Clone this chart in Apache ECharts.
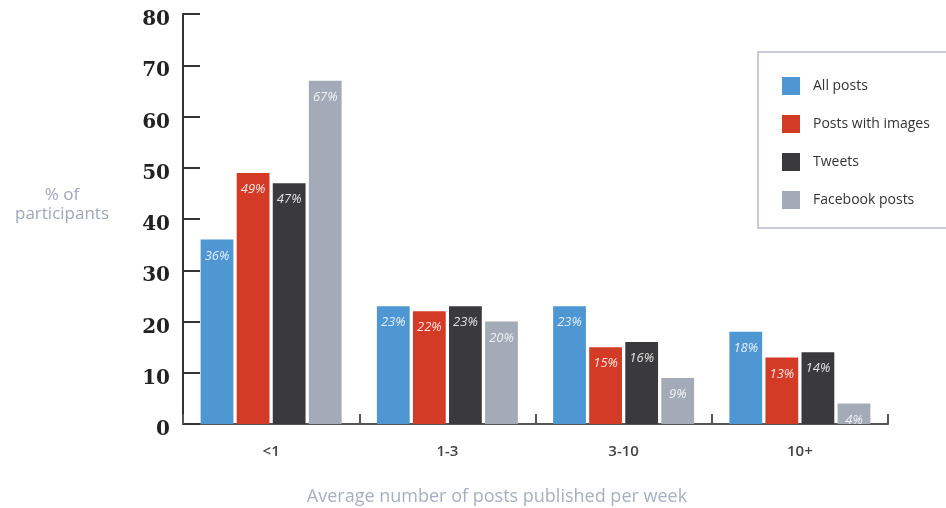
<!DOCTYPE html>
<html lang="en">
<head>
    <meta charset="UTF-8">
    <title>Posts per week</title>
    <script src="https://cdn.jsdelivr.net/npm/echarts@6/dist/echarts.min.js"></script>
    <style>
        html, body { margin: 0; padding: 0; background: #fff; }
        #main { width: 946px; height: 508px; }
    </style>
</head>
<body>
<div id="main"></div>
<script>
    // categories and values
    var categories = ['<1', '1-3', '3-10', '10+'];
    var seriesNames = ['All posts', 'Posts with images', 'Tweets', 'Facebook posts'];
    var allPosts = [36, 23, 23, 18];
    var withImages = [49, 22, 15, 13];
    var tweets = [47, 23, 16, 14];
    var facebook = [67, 20, 9, 4];
    var yTicks = [0, 10, 20, 30, 40, 50, 60, 70, 80];

    var colors = ['#4f97d3', '#d33b27', '#3a3a3c', '#a4abb8'];
    var values = [allPosts, withImages, tweets, facebook];

    var myChart = echarts.init(document.getElementById('main'));

    var series = seriesNames.map(function (name, i) {
        return {
            name: name,
            type: 'bar',
            data: values[i],
            barGap: '10%',
            barCategoryGap: '20%',
            itemStyle: { color: colors[i] },
            label: {
                show: true,
                position: 'insideTop',
                distance: 10,
                formatter: '{c}%',
                color: 'rgba(255,255,255,0.85)',
                fontStyle: 'italic',
                fontFamily: 'Open Sans',
                fontSize: 13
            }
        };
    });

    var option = {
        animation: false,
        color: colors,
        grid: { left: 183, right: 58, top: 14, bottom: 84 },
        legend: {
            orient: 'vertical',
            left: 777,
            top: 72,
            itemWidth: 18,
            itemHeight: 18,
            itemGap: 20,
            icon: 'rect',
            data: seriesNames,
            textStyle: {
                fontFamily: 'Open Sans',
                fontSize: 14,
                color: '#333',
                padding: [0, 0, 0, 8]
            }
        },
        xAxis: {
            type: 'category',
            data: categories,
            axisLine: { lineStyle: { color: '#555', width: 2 } },
            axisTick: { show: true, inside: true, length: 10, lineStyle: { color: '#555', width: 2 } },
            axisLabel: {
                margin: 20,
                fontFamily: 'Open Sans',
                fontWeight: 600,
                fontSize: 15,
                color: '#444'
            }
        },
        yAxis: {
            type: 'value',
            min: yTicks[0],
            max: yTicks[yTicks.length - 1],
            interval: 10,
            splitLine: { show: false },
            axisLine: { show: true, lineStyle: { color: '#333', width: 2 } },
            axisTick: { show: true, inside: true, length: 17, lineStyle: { color: '#333', width: 2 } },
            axisLabel: {
                margin: 13,
                verticalAlign: 'top',
                lineHeight: 12,
                fontFamily: 'DejaVu Serif',
                fontWeight: 'bold',
                fontSize: 20,
                color: '#222'
            }
        },
        graphic: [
            {
                type: 'rect',
                shape: { x: 758, y: 52, width: 220, height: 176 },
                style: { fill: 'none', stroke: '#b8bccb', lineWidth: 1.5 }
            },
            {
                type: 'text',
                x: 62,
                y: 205,
                style: {
                    text: '% of\nparticipants',
                    textAlign: 'center',
                    textVerticalAlign: 'middle',
                    fontFamily: 'Open Sans',
                    fontSize: 17,
                    lineHeight: 19,
                    fill: '#9ea7bb'
                }
            },
            {
                type: 'text',
                x: 497,
                y: 497,
                style: {
                    text: 'Average number of posts published per week',
                    textAlign: 'center',
                    textVerticalAlign: 'middle',
                    fontFamily: 'Open Sans',
                    fontSize: 18,
                    fill: '#a8afc0'
                }
            }
        ],
        series: series
    };

    myChart.setOption(option);
</script>
</body>
</html>
